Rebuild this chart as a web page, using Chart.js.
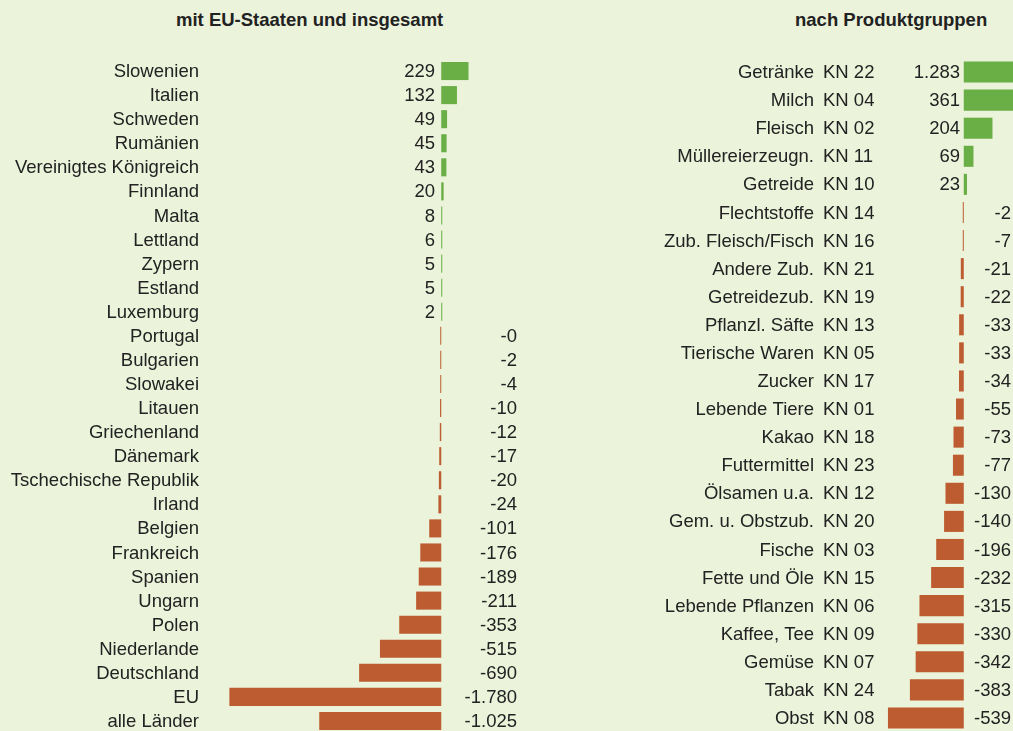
<!DOCTYPE html>
<html>
<head>
<meta charset="utf-8">
<script src="https://cdn.jsdelivr.net/npm/chart.js@4"></script>
<style>
    html, body { margin: 0; padding: 0; width: 1013px; height: 731px; overflow: hidden; background: #ebf3da; }
    .title { position: absolute; top: 9px; font: bold 18.5px "Liberation Sans", Arial, sans-serif; color: #222; white-space: nowrap; }
    canvas { position: absolute; top: 0; }
</style>
</head>
<body>
<div class="title" style="left:176px">mit EU-Staaten und insgesamt</div>
<div class="title" style="left:795px">nach Produktgruppen</div>
<canvas id="leftChart" width="530" height="745" style="left:0"></canvas>
<canvas id="rightChart" width="483" height="745" style="left:530px"></canvas>
<script>
// Länder
const countries = ['Slowenien', 'Italien', 'Schweden', 'Rumänien', 'Vereinigtes Königreich', 'Finnland',
    'Malta', 'Lettland', 'Zypern', 'Estland', 'Luxemburg', 'Portugal', 'Bulgarien', 'Slowakei', 'Litauen',
    'Griechenland', 'Dänemark', 'Tschechische Republik', 'Irland', 'Belgien', 'Frankreich', 'Spanien',
    'Ungarn', 'Polen', 'Niederlande', 'Deutschland', 'EU', 'alle Länder'];
const countryValues = [229, 132, 49, 45, 43, 20, 8, 6, 5, 5, 2, -0.3, -2, -4, -10, -12, -17, -20, -24,
    -101, -176, -189, -211, -353, -515, -690, -1780, -1025];

// Produktgruppen
const products = ['Getränke', 'Milch', 'Fleisch', 'Müllereierzeugn.', 'Getreide', 'Flechtstoffe',
    'Zub. Fleisch/Fisch', 'Andere Zub.', 'Getreidezub.', 'Pflanzl. Säfte', 'Tierische Waren', 'Zucker',
    'Lebende Tiere', 'Kakao', 'Futtermittel', 'Ölsamen u.a.', 'Gem. u. Obstzub.', 'Fische', 'Fette und Öle',
    'Lebende Pflanzen', 'Kaffee, Tee', 'Gemüse', 'Tabak', 'Obst'];
const productCodes = ['KN 22', 'KN 04', 'KN 02', 'KN 11', 'KN 10', 'KN 14', 'KN 16', 'KN 21', 'KN 19',
    'KN 13', 'KN 05', 'KN 17', 'KN 01', 'KN 18', 'KN 23', 'KN 12', 'KN 20', 'KN 03', 'KN 15', 'KN 06',
    'KN 09', 'KN 07', 'KN 24', 'KN 08'];
const productValues = [1283, 361, 204, 69, 23, -2, -7, -21, -22, -33, -33, -34, -55, -73, -77, -130, -140,
    -196, -232, -315, -330, -342, -383, -539];

const GREEN = '#6aae46';
const ORANGE = '#bd5c30';
const FONT = '18.5px "Liberation Sans", Arial, sans-serif';

// deutsche Zahlenformatierung, "-0" bleibt erhalten
function fmt(v) {
    const sign = v < 0 ? '-' : '';
    const s = String(Math.round(Math.abs(v)));
    return sign + s.replace(/\B(?=(\d{3})+(?!\d))/g, '.');
}

// Beschriftungen: Namen, (Codes) und Werte
function labelPlugin(pos) {
    return {
        id: 'rowLabels',
        afterDatasetsDraw(chart) {
            const ctx = chart.ctx;
            const y = chart.scales.y;
            const ds = chart.data.datasets[0].data;
            ctx.save();
            ctx.font = FONT;
            ctx.fillStyle = '#222';
            ctx.textBaseline = 'middle';
            chart.data.labels.forEach((name, i) => {
                const py = y.getPixelForValue(i) + 1;
                ctx.textAlign = 'right';
                ctx.fillText(name, pos.name, py);
                if (pos.codes) {
                    ctx.textAlign = 'left';
                    ctx.fillText(pos.codes[i], pos.code, py);
                }
                ctx.textAlign = 'right';
                ctx.fillText(fmt(ds[i]), ds[i] < 0 ? pos.neg : pos.pos, py);
            });
            ctx.restore();
        }
    };
}

function makeChart(id, labels, values, xmin, xmax, padding, pos) {
    return new Chart(document.getElementById(id), {
        type: 'bar',
        data: {
            labels: labels,
            datasets: [{
                data: values,
                backgroundColor: values.map(v => v < 0 ? ORANGE : GREEN),
                barPercentage: 0.75,
                categoryPercentage: 1,
                minBarLength: 1
            }]
        },
        options: {
            indexAxis: 'y',
            responsive: false,
            animation: false,
            devicePixelRatio: 1,
            layout: { padding: padding },
            plugins: {
                legend: { display: false },
                tooltip: { enabled: false }
            },
            scales: {
                x: { display: false, min: xmin, max: xmax },
                y: { display: false }
            }
        },
        plugins: [labelPlugin(pos)]
    });
}

makeChart('leftChart', countries, countryValues, -1800, 250,
    { left: 227, right: 59, top: 59, bottom: 12 },
    { name: 199, pos: 435, neg: 517 });

makeChart('rightChart', products, productValues, -560, 350,
    { left: 355, right: 0, top: 58, bottom: 13 },
    { name: 284, code: 293, codes: productCodes, pos: 430, neg: 481 });
</script>
</body>
</html>
